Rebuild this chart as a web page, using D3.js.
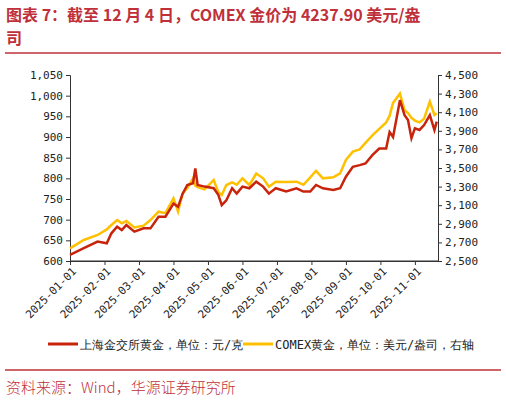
<!DOCTYPE html>
<html><head><meta charset="utf-8">
<script src="https://cdn.jsdelivr.net/npm/d3@7"></script>
<style>body{margin:0;background:#fff}text{font-family:"DejaVu Sans Mono",monospace}</style>
</head><body><svg id="chart" width="506" height="403"></svg>
<script>
const dates = ['01-01','01-13','01-25','02-03','02-07','02-12','02-16','02-20','02-27','03-05','03-11','03-18','03-24','03-31','04-05','04-09','04-13','04-18','04-20','04-22','04-28','05-06','05-10','05-13','05-17','05-22','05-26','06-01','06-07','06-13','06-19','06-24','06-30','07-09','07-18','07-24','07-30','08-05','08-11','08-20','08-26','09-01','09-07','09-13','09-18','09-24','09-30','10-06','10-09','10-12','10-18','10-22','10-25','10-28','11-01','11-05','11-09','11-14','11-18','11-20'];
const sgeGold = [615,631,647,643,667,683,675,687,671,679,679,707,707,739,731,763,784,788,824,784,780,776,760,735,747,776,763,780,776,792,780,763,776,768,776,768,768,784,776,772,776,804,828,832,836,856,872,872,912,900,989,953,941,897,921,917,929,953,917,937];
const comexGold = [2636,2726,2780,2840,2887,2941,2905,2930,2860,2880,2940,3030,3015,3174,3030,3228,3281,3389,3310,3295,3270,3370,3240,3210,3317,3345,3320,3389,3317,3440,3389,3299,3353,3350,3353,3320,3400,3470,3389,3400,3443,3586,3676,3700,3770,3850,3920,3990,4060,4200,4300,4124,4090,4040,4010,3990,4030,4213,4070,4088];
const monthTicks = ['2025-01-01','2025-02-01','2025-03-01','2025-04-01','2025-05-01','2025-06-01','2025-07-01','2025-08-01','2025-09-01','2025-10-01','2025-11-01'];
const leftTicks = [600,650,700,750,800,850,900,950,1000,1050];
const rightTicks = [2500,2700,2900,3100,3300,3500,3700,3900,4100,4300,4500];
const legendNames = ['上海金交所黄金，单位：元/克','COMEX黄金，单位：美元/盎司，右轴'];
const colors = ['#c8240c','#ffc000'];

const svg = d3.select('#chart');
const red = '#c0303a';

// month position: month index + fraction of month
function mpos(s) {
    let [m, d] = s.split('-').map(Number);
    return (m - 1) + (d - 1) / 30;
}
const x = d3.scaleLinear().domain([0, 10.67]).range([70, 438]);
const yL = d3.scaleLinear().domain([600, 1050]).range([261, 75]);
const yR = d3.scaleLinear().domain([2500, 4500]).range([261, 75]);

svg.append('text').attr('x', 6).attr('y', 21).attr('fill', red)
    .style('font-size', '16px').style('font-weight', 'bold')
    .style('font-family', '"Noto Sans CJK SC", sans-serif')
    .text('图表 7：截至 12 月 4 日，COMEX 金价为 4237.90 美元/盎');
svg.append('text').attr('x', 6).attr('y', 44).attr('fill', red)
    .style('font-size', '16px').style('font-weight', 'bold')
    .style('font-family', '"Noto Sans CJK SC", sans-serif').text('司');
svg.append('line').attr('x1', 5).attr('x2', 501).attr('y1', 53).attr('y2', 53).attr('stroke', red).attr('stroke-width', 1.5);
svg.append('line').attr('x1', 5).attr('x2', 501).attr('y1', 370).attr('y2', 370).attr('stroke', red).attr('stroke-width', 1.5);
svg.append('text').attr('x', 6).attr('y', 393).attr('fill', red).style('font-size', '15px')
    .style('font-family', '"Noto Sans CJK SC", sans-serif').style('font-weight', 300)
    .text('资料来源：Wind，华源证券研究所');

let gl = svg.append('g').attr('transform', 'translate(70,0)')
    .call(d3.axisLeft(yL).tickValues(leftTicks).tickFormat(d3.format(',')).tickSize(4));
let gr = svg.append('g').attr('transform', 'translate(438,0)')
    .call(d3.axisRight(yR).tickValues(rightTicks).tickFormat(d3.format(',')).tickSize(4));
let gx = svg.append('g').attr('transform', 'translate(0,261)')
    .call(d3.axisBottom(x).tickValues(monthTicks.map((d, i) => i)).tickFormat(i => monthTicks[i]).tickSize(4).tickSizeOuter(0));
svg.append('line').attr('x1', 70).attr('x2', 438).attr('y1', 261).attr('y2', 261).attr('stroke', '#333');
gx.selectAll('text').attr('transform', 'rotate(-45)').attr('text-anchor', 'end').attr('dx', '-0.3em').attr('dy', '0.5em');
[gl, gr, gx].forEach(g => {
    g.selectAll('text').style('font-size', '11px').attr('fill', '#222');
    g.selectAll('path,line').attr('stroke', '#333');
});

let line1 = d3.line().x((d, i) => x(mpos(dates[i]))).y(d => yL(d));
let line2 = d3.line().x((d, i) => x(mpos(dates[i]))).y(d => yR(d));
svg.append('path').datum(comexGold).attr('d', line2).attr('fill', 'none').attr('stroke', colors[1]).attr('stroke-width', 2.5);
svg.append('path').datum(sgeGold).attr('d', line1).attr('fill', 'none').attr('stroke', colors[0]).attr('stroke-width', 2.5);

let lx = [48, 243];
legendNames.forEach((n, i) => {
    svg.append('line').attr('x1', lx[i]).attr('x2', lx[i] + 30).attr('y1', 344).attr('y2', 344).attr('stroke', colors[i]).attr('stroke-width', 3);
    svg.append('text').attr('x', lx[i] + 32).attr('y', 349).style('font-size', '12px').attr('fill', '#222').text(n);
});
</script></body></html>
